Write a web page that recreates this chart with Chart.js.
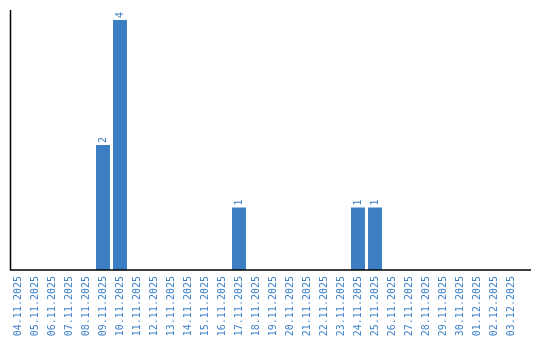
<!DOCTYPE html>
<html><head><meta charset="utf-8">
<script src="https://cdn.jsdelivr.net/npm/chart.js@4.4.1/dist/chart.umd.min.js"></script>
<style>html,body{margin:0;padding:0;background:#fff}#wrap{width:540px;height:340px}</style>
</head><body><div id="wrap"><canvas id="c" width="540" height="340"></canvas></div>
<script>
const categories = ["04.11.2025","05.11.2025","06.11.2025","07.11.2025","08.11.2025","09.11.2025","10.11.2025","11.11.2025","12.11.2025","13.11.2025","14.11.2025","15.11.2025","16.11.2025","17.11.2025","18.11.2025","19.11.2025","20.11.2025","21.11.2025","22.11.2025","23.11.2025","24.11.2025","25.11.2025","26.11.2025","27.11.2025","28.11.2025","29.11.2025","30.11.2025","01.12.2025","02.12.2025","03.12.2025"];
const counts = [0,0,0,0,0,2,4,0,0,0,0,0,0,1,0,0,0,0,0,0,1,1,0,0,0,0,0,0,0,0];
const blue = '#3b7ec4';

const axisLines = {
  id: 'axisLines',
  afterDraw(chart) {
    const ctx = chart.ctx, a = chart.chartArea;
    ctx.save();
    ctx.strokeStyle = '#000'; ctx.lineWidth = 1.5;
    ctx.beginPath();
    ctx.moveTo(10.5, 10); ctx.lineTo(10.5, a.bottom);
    ctx.lineTo(531, a.bottom);
    ctx.stroke();
    ctx.restore();
  }
};
const valueLabels = {
  id: 'valueLabels',
  afterDatasetsDraw(chart) {
    const ctx = chart.ctx;
    const meta = chart.getDatasetMeta(0);
    ctx.save();
    ctx.fillStyle = blue;
    ctx.font = '10px "DejaVu Sans Mono"';
    ctx.textAlign = 'left'; ctx.textBaseline = 'middle';
    meta.data.forEach((bar, i) => {
      const v = counts[i];
      if (!v) return;
      ctx.save();
      ctx.translate(bar.x, bar.y - 2);
      ctx.rotate(-Math.PI / 2);
      ctx.fillText(String(v), 0, 0);
      ctx.restore();
    });
    ctx.restore();
  }
};

new Chart(document.getElementById('c'), {
  type: 'bar',
  data: { labels: categories, datasets: [{ data: counts, backgroundColor: blue, borderWidth: 0, barPercentage: 0.82, categoryPercentage: 1 }] },
  options: {
    responsive: false, animation: false,
    layout: { padding: { top: 10, left: 9.5, right: 20.5, bottom: 0 } },
    plugins: { legend: { display: false }, tooltip: { enabled: false } },
    scales: {
      x: {
        grid: { display: false, drawTicks: false }, border: { display: false },
        ticks: { color: '#3f82c8', font: { family: '"DejaVu Sans Mono"', size: 10 }, minRotation: 90, maxRotation: 90, padding: 6, autoSkip: false },
        afterFit(s) { s.height = 70; }
      },
      y: { display: false, min: 0, max: 4.16 }
    }
  },
  plugins: [axisLines, valueLabels]
});
</script></body></html>
